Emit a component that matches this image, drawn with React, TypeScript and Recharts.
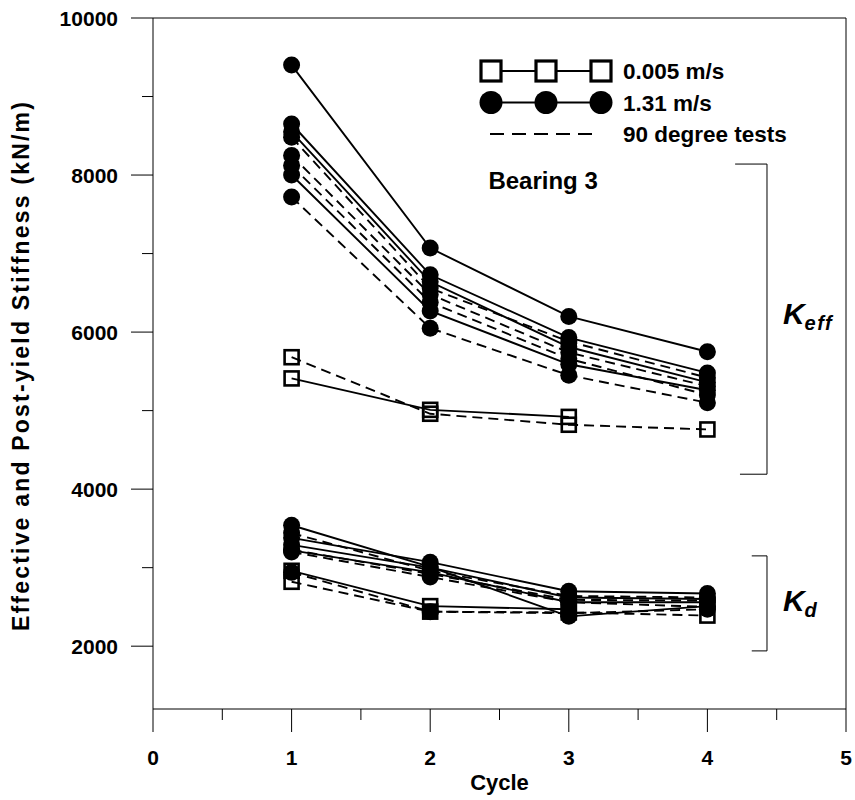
import { LineChart, Line, XAxis, YAxis, ReferenceLine, ReferenceDot, Legend, Label } from 'recharts';

const cycles = [1, 2, 3, 4];

// K_eff, 1.31 m/s (filled circles)
const keffFast1 = [9400, 7070, 6200, 5750];
const keffFast2 = [8650, 6730, 5930, 5480];
const keffFast3 = [8550, 6640, 5810, 5360];
const keffFast4 = [8000, 6270, 5590, 5260];
const keffFast90a = [8480, 6560, 5880, 5420];
const keffFast90b = [8250, 6480, 5740, 5310];
const keffFast90c = [8120, 6380, 5660, 5200];
const keffFast90d = [7720, 6050, 5450, 5100];
// K_eff, 0.005 m/s (open squares)
const keffSlow = [5410, 5010, 4920, null];
const keffSlow90 = [5680, 4960, 4820, 4760];
// K_d, 1.31 m/s
const kdFast1 = [3540, 3010, 2380, 2510];
const kdFast2 = [3380, 3070, 2700, 2670];
const kdFast3 = [3290, 3000, 2620, 2600];
const kdFast4 = [3220, 2940, 2560, 2560];
const kdFast90a = [3440, 2960, 2640, 2620];
const kdFast90b = [3230, 2920, 2590, 2580];
const kdFast90c = [3200, 2880, 2560, 2500];
const kdFast90d = [2940, 2440, 2420, 2470];
// K_d, 0.005 m/s
const kdSlow = [2960, 2510, 2470, null];
const kdSlow90 = [2820, 2440, 2430, 2390];

const xTicks = [0, 0.5, 1, 1.5, 2, 2.5, 3, 3.5, 4, 4.5, 5];
const yTicks = [2000, 3000, 4000, 5000, 6000, 7000, 8000, 9000, 10000];

const series = [
  { key: 'kf1', values: keffFast1, marker: 'circle', dashed: false },
  { key: 'kf2', values: keffFast2, marker: 'circle', dashed: false },
  { key: 'kf3', values: keffFast3, marker: 'circle', dashed: false },
  { key: 'kf4', values: keffFast4, marker: 'circle', dashed: false },
  { key: 'kf5', values: keffFast90a, marker: 'circle', dashed: true },
  { key: 'kf6', values: keffFast90b, marker: 'circle', dashed: true },
  { key: 'kf7', values: keffFast90c, marker: 'circle', dashed: true },
  { key: 'kf8', values: keffFast90d, marker: 'circle', dashed: true },
  { key: 'ks1', values: keffSlow, marker: 'square', dashed: false },
  { key: 'ks2', values: keffSlow90, marker: 'square', dashed: true },
  { key: 'kd1', values: kdFast1, marker: 'circle', dashed: false },
  { key: 'kd2', values: kdFast2, marker: 'circle', dashed: false },
  { key: 'kd3', values: kdFast3, marker: 'circle', dashed: false },
  { key: 'kd4', values: kdFast4, marker: 'circle', dashed: false },
  { key: 'kd5', values: kdFast90a, marker: 'circle', dashed: true },
  { key: 'kd6', values: kdFast90b, marker: 'circle', dashed: true },
  { key: 'kd7', values: kdFast90c, marker: 'circle', dashed: true },
  { key: 'kd8', values: kdFast90d, marker: 'circle', dashed: true },
  { key: 'kds1', values: kdSlow, marker: 'square', dashed: false },
  { key: 'kds2', values: kdSlow90, marker: 'square', dashed: true },
];

const legendRows = [
  { label: '0.005 m/s', marker: 'square', dashed: false },
  { label: '1.31 m/s', marker: 'circle', dashed: false },
  { label: '90 degree tests', marker: 'none', dashed: true },
];

// bracket annotations, in data units
const keffBracket = { x: 4.43, top: 8140, bottom: 4190, leftTop: 4.2, leftBottom: 4.235 };
const kdBracket = { x: 4.43, top: 3150, bottom: 1940, leftTop: 4.32, leftBottom: 4.32 };

const rows = cycles.map((c, i) => {
  const r: any = { cycle: c };
  series.forEach((s) => { r[s.key] = s.values[i]; });
  return r;
});

const FONT = '"Liberation Sans", Arial, Helvetica, sans-serif';

const SquareDot = (p: any) => {
  if (p.cx == null || p.cy == null || p.value == null) return <g key={p.key} />;
  return <rect key={p.key} x={p.cx - 7} y={p.cy - 7} width={14} height={14} fill="none" stroke="#000" strokeWidth={2.6} />;
};

const XTick = (p: any) => {
  const v = p.payload.value;
  const major = Number.isInteger(v);
  return (
    <g>
      <line x1={p.x} x2={p.x} y1={p.y} y2={p.y + (major ? 23 : 11)} stroke="#000" strokeWidth={1} />
      {major && (
        <text x={p.x} y={p.y + 56} textAnchor="middle" fontFamily={FONT} fontWeight="bold" fontSize={21} fill="#000">{v}</text>
      )}
    </g>
  );
};

const YTick = (p: any) => {
  const v = p.payload.value;
  const major = v % 2000 === 0;
  return (
    <g>
      <line x1={p.x - (major ? 22 : 11)} x2={p.x} y1={p.y} y2={p.y} stroke="#000" strokeWidth={1} />
      {major && (
        <text x={p.x - 35} y={p.y + 7.5} textAnchor="end" fontFamily={FONT} fontWeight="bold" fontSize={21} fill="#000">{v}</text>
      )}
    </g>
  );
};

const LegendBox = () => (
  <svg width={380} height={100} style={{ display: 'block' }}>
    {legendRows.map((r, i) => {
      const y = 16 + i * 31.5;
      return (
        <g key={r.label}>
          <line x1={r.dashed ? 20 : 21} x2={r.dashed ? 128 : 131} y1={y} y2={y} stroke="#000" strokeWidth={1.8} strokeDasharray={r.dashed ? '14 8' : undefined} />
          {r.marker === 'square' && [21, 76, 131].map((x) => (
            <rect key={x} x={x - 10} y={y - 10} width={20} height={20} fill="#fff" stroke="#000" strokeWidth={3.2} />
          ))}
          {r.marker === 'circle' && [21, 76, 131].map((x) => <circle key={x} cx={x} cy={y} r={11.5} fill="#000" />)}
          <text x={153} y={y + 8} fontFamily={FONT} fontWeight="bold" fontSize={22.5} fill="#000">{r.label}</text>
        </g>
      );
    })}
  </svg>
);

const textLabel = (main: string, sub: string) => (p: any) => {
  const vb = p.viewBox;
  return (
    <text x={vb.x} y={vb.y} fontFamily={FONT} fontWeight="bold" fontStyle="italic" fill="#000">
      <tspan fontSize={30}>{main}</tspan>
      {sub && <tspan fontSize={20} dy={6} letterSpacing={sub.length > 1 ? 1.5 : 0}>{sub}</tspan>}
    </text>
  );
};

export default function App() {
  return (
    <div style={{ position: 'absolute', left: 0, top: 0, width: 855, height: 800, background: '#fff' }}>
      <LineChart width={855} height={800} data={rows} margin={{ top: 18, right: 9, bottom: 0, left: 0 }}>
        <XAxis
          type="number"
          dataKey="cycle"
          domain={[0, 5]}
          ticks={xTicks}
          interval={0}
          tickSize={0}
          tickMargin={0}
          tickLine={false}
          tick={<XTick />}
          height={91}
          axisLine={{ stroke: '#000', strokeWidth: 1 }}
          allowDataOverflow
        >
          <Label
            content={(p: any) => (
              <text x={p.viewBox.x + p.viewBox.width / 2} y={p.viewBox.y + 81} textAnchor="middle" fontFamily={FONT} fontWeight="bold" fontSize={22} fill="#000">Cycle</text>
            )}
          />
        </XAxis>
        <YAxis
          type="number"
          domain={[1200, 10000]}
          ticks={yTicks}
          interval={0}
          tickSize={0}
          tickMargin={0}
          tickLine={false}
          tick={<YTick />}
          width={153}
          axisLine={{ stroke: '#000', strokeWidth: 1 }}
          allowDataOverflow
        >
          <Label
            content={(p: any) => {
              const cx = p.viewBox.x + 29;
              const cy = p.viewBox.y + p.viewBox.height / 2 + 2;
              return (
                <text transform={`translate(${cx}, ${cy}) rotate(-90)`} textAnchor="middle" fontFamily={FONT} fontWeight="bold" fontSize={23} letterSpacing={2.2} fill="#000">
                  Effective and Post-yield Stiffness (kN/m)
                </text>
              );
            }}
          />
        </YAxis>
        <ReferenceLine y={10000} stroke="#000" strokeWidth={1} />
        <ReferenceLine x={5} stroke="#000" strokeWidth={1} />

        <ReferenceLine segment={[{ x: keffBracket.leftTop, y: keffBracket.top }, { x: keffBracket.x, y: keffBracket.top }]} stroke="#000" strokeWidth={1} />
        <ReferenceLine segment={[{ x: keffBracket.x, y: keffBracket.top }, { x: keffBracket.x, y: keffBracket.bottom }]} stroke="#000" strokeWidth={1} />
        <ReferenceLine segment={[{ x: keffBracket.leftBottom, y: keffBracket.bottom }, { x: keffBracket.x, y: keffBracket.bottom }]} stroke="#000" strokeWidth={1} />
        <ReferenceLine segment={[{ x: kdBracket.leftTop, y: kdBracket.top }, { x: kdBracket.x, y: kdBracket.top }]} stroke="#000" strokeWidth={1} />
        <ReferenceLine segment={[{ x: kdBracket.x, y: kdBracket.top }, { x: kdBracket.x, y: kdBracket.bottom }]} stroke="#000" strokeWidth={1} />
        <ReferenceLine segment={[{ x: kdBracket.leftBottom, y: kdBracket.bottom }, { x: kdBracket.x, y: kdBracket.bottom }]} stroke="#000" strokeWidth={1} />

        {series.map((s) => (
          <Line
            key={s.key}
            dataKey={s.key}
            type="linear"
            stroke="#000"
            strokeWidth={1.9}
            strokeDasharray={s.dashed ? '10 6' : undefined}
            dot={s.marker === 'circle' ? { r: 8.5, fill: '#000', stroke: 'none' } : <SquareDot />}
            activeDot={false}
            isAnimationActive={false}
            connectNulls={false}
          />
        ))}

        <ReferenceDot x={2.42} y={8000} r={0} stroke="none" label={<Label content={(p: any) => (
          <text x={p.viewBox.x} y={p.viewBox.y + 14} fontFamily={FONT} fontWeight="bold" fontSize={24} fill="#000">Bearing 3</text>
        )} />} />
        <ReferenceDot x={4.545} y={6100} r={0} stroke="none" label={<Label content={textLabel('K', 'eff')} />} />
        <ReferenceDot x={4.545} y={2450} r={0} stroke="none" label={<Label content={textLabel('K', 'd')} />} />

        <Legend
          layout="horizontal"
          verticalAlign="middle"
          align="center"
          content={<LegendBox />}
          wrapperStyle={{ top: 55, left: 470, width: 380, height: 100 }}
        />
      </LineChart>
    </div>
  );
}
